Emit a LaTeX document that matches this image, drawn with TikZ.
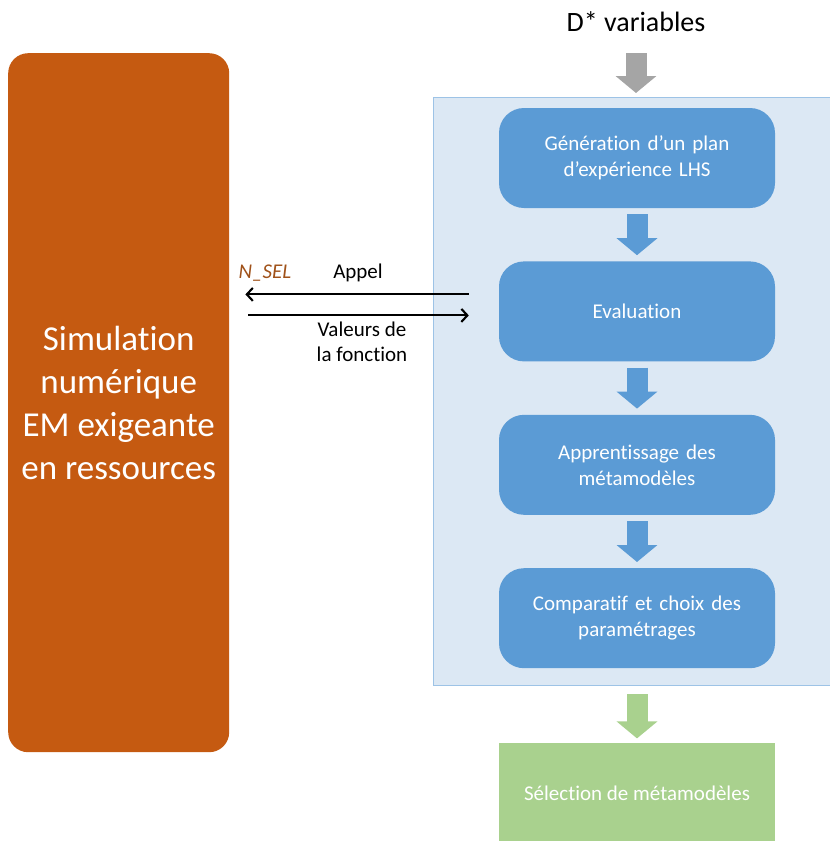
\documentclass[tikz,border=0pt]{standalone}
\usepackage{fontspec}
\setmainfont{Carlito}[Ligatures={NoCommon}]
\usepackage{tikz}
\usetikzlibrary{arrows.meta,positioning}

\definecolor{simorange}{HTML}{C55A11}
\definecolor{selbrown}{HTML}{A0521A}
\definecolor{panelfill}{HTML}{DCE8F4}
\definecolor{paneledge}{HTML}{9DC3E6}
\definecolor{stageblue}{HTML}{5B9BD5}
\definecolor{resgreen}{HTML}{A9D18E}
\definecolor{ingray}{HTML}{A5A5A5}

\begin{document}
\begin{tikzpicture}[x=1pt,y=-1pt,node distance=53pt,
                    >={Straight Barb[length=6pt,width=13pt]}]
  \tikzstyle{stage}=[rectangle,rounded corners=25pt,fill=stageblue,text=white,
                     minimum width=276pt,minimum height=100pt,text width=260pt,
                     align=center,inner sep=0pt,font=\fontsize{21}{26}\selectfont]
  \tikzstyle{lbl}=[align=center,inner sep=0pt,font=\fontsize{21}{25}\selectfont]
  \tikzstyle{fat}=[line width=21pt,-{Triangle[length=17pt,width=40pt]}]

  \useasboundingbox (0,0) rectangle (830,841);

  \node[rectangle,draw=paneledge,fill=panelfill,line width=1.2pt,inner sep=0pt,
        minimum width=402pt,minimum height=588pt,anchor=north west] (panel) at (433,97) {};
  \node[rectangle,rounded corners=20pt,fill=simorange,text=white,align=center,
        minimum width=221pt,minimum height=699pt,anchor=north west,
        font=\fontsize{35}{43}\selectfont] (sim) at (8,53)
        {Simulation\\numérique\\EM exigeante\\en ressources};

  \node[font=\fontsize{28}{34}\selectfont,inner sep=0pt] (dvar) at (636,22) {D* variables};

  \node[stage] (gen) at (637,158) {Génération d’un plan\\d’expérience LHS};
  \node[stage] (eval) [below=of gen] {Evaluation};
  \node[stage] (learn) [below=of eval] {Apprentissage des\\métamodèles};
  \node[stage] (cmp) [below=of learn] {Comparatif et choix des\\paramétrages};
  \node[rectangle,fill=resgreen,text=white,minimum width=276pt,minimum height=102pt,
        inner sep=0pt,font=\fontsize{21}{26}\selectfont] (sel) [below=74pt of cmp]
        {Sélection de métamodèles};

  \draw[fat,ingray,shorten >=4pt] ([yshift=-31pt]dvar.center) -- (panel.north -| dvar);
  \draw[fat,stageblue,shorten <=6pt,shorten >=6pt] (gen) -- (eval);
  \draw[fat,stageblue,shorten <=6pt,shorten >=6pt] (eval) -- (learn);
  \draw[fat,stageblue,shorten <=6pt,shorten >=6pt] (learn) -- (cmp);
  \draw[fat,resgreen,shorten <=8pt,shorten >=4pt] (panel.south -| sel) -- (sel);

  \draw[->,line width=2.1pt,shorten >=16pt]
       ([xshift=-30pt,yshift=17pt]eval.west) -- ([yshift=17pt]eval.west -| sim.east);
  \draw[->,line width=2.1pt,shorten <=19pt]
       ([yshift=-4pt]eval.west -| sim.east) -- ([xshift=-30pt,yshift=-4pt]eval.west);

  \node[lbl,text=selbrown] (nsel) at (265,273) {\textit{N\_SEL}};
  \node[lbl] (appel) at (358,273) {Appel};
  \node[lbl] (valeurs) at (362,342) {Valeurs de\\la fonction};
\end{tikzpicture}
\end{document}
